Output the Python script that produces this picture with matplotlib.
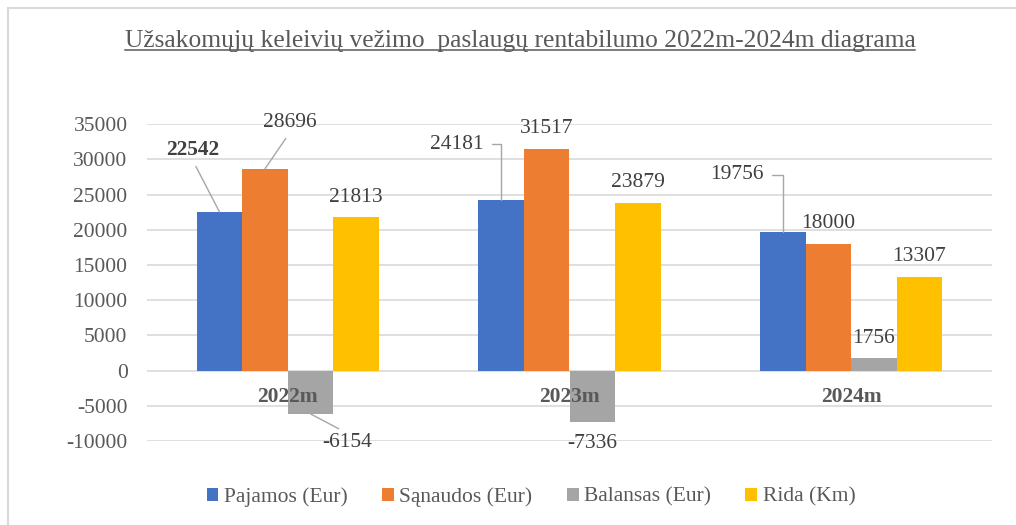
import matplotlib
matplotlib.use("Agg")
import matplotlib.pyplot as plt
from matplotlib.patches import Patch, Rectangle
from matplotlib.lines import Line2D
import numpy as np

# ---- data ----
categories = ['2022m', '2023m', '2024m']
series_names = ['Pajamos (Eur)', 'Sąnaudos (Eur)', 'Balansas (Eur)', 'Rida (Km)']
pajamos = [22542, 24181, 19756]
sanaudos = [28696, 31517, 18000]
balansas = [-6154, -7336, 1756]
rida = [21813, 23879, 13307]
y_ticks = [-10000, -5000, 0, 5000, 10000, 15000, 20000, 25000, 30000, 35000]
title = 'Užsakomųjų keleivių vežimo  paslaugų rentabilumo 2022m-2024m diagrama'

# ---- style ----
colors = ['#4472C4', '#ED7D31', '#A5A5A5', '#FFC000']
txt_grey = '#595959'
lbl_grey = '#404040'
leader_grey = '#A6A6A6'
grid_grey = '#D9D9D9'
FONT = 'Liberation Serif'
FS = 15.5

plt.rcParams['font.family'] = [FONT, 'DejaVu Serif']

W, H, DPI = 1016, 525, 100
fig = plt.figure(figsize=(W / DPI, H / DPI), dpi=DPI)
ax = fig.add_axes([147 / W, 1 - 441 / H, (992 - 147) / W, (441 - 124.3) / H])

series = [pajamos, sanaudos, balansas, rida]
x = np.arange(len(categories))
bw = 0.1617
for k, vals in enumerate(series):
    ax.bar(x + (k - 1.5) * bw, vals, width=bw, color=colors[k], zorder=2,
           label=series_names[k])

ax.set_xlim(-0.5, len(categories) - 0.5)
ax.set_ylim(y_ticks[0], y_ticks[-1])
ax.set_yticks(y_ticks)
ax.set_yticklabels([str(t) for t in y_ticks])
ax.set_xticks([])
ax.tick_params(axis='y', length=0, pad=14, labelsize=FS, labelcolor=txt_grey)
for s in ax.spines.values():
    s.set_visible(False)
ax.grid(axis='y', color=grid_grey, lw=1.2, zorder=0)
ax.set_axisbelow(True)

# category labels near zero line
for i, c in enumerate(categories):
    ax.annotate(c, xy=(i, 0), xytext=(0, -26), textcoords='offset pixels',
                ha='center', va='center', fontsize=FS, fontweight='bold',
                color=txt_grey, zorder=6)

# data label placement: (series, category) -> (dx, dy, kind)
special = {
    (0, 0): (-27, 62, 'line_bottom'),
    (1, 0): (25, 46, 'line_bottom'),
    (0, 1): (-44, 56, 'elbow'),
    (0, 2): (-46, 57, 'elbow'),
    (2, 0): (37, -29, 'line_top'),
}
bold_labels = {(0, 0)}

for k, vals in enumerate(series):
    for i, v in enumerate(vals):
        xp = i + (k - 1.5) * bw
        dx, dy, kind = special.get((k, i), (0, 20 if v >= 0 else -21, None))
        kw = dict(xy=(xp, v), xytext=(dx, dy), textcoords='offset pixels',
                  ha='center', va='center', fontsize=FS, color=lbl_grey,
                  fontweight='bold' if (k, i) in bold_labels else 'normal',
                  zorder=7)
        if kind == 'line_bottom':
            kw['arrowprops'] = dict(arrowstyle='-', color=leader_grey, lw=1,
                                    shrinkA=3, shrinkB=0, relpos=(0.5, 0))
        elif kind == 'line_top':
            kw['arrowprops'] = dict(arrowstyle='-', color=leader_grey, lw=1,
                                    shrinkA=3, shrinkB=0, relpos=(0.5, 1))
        elif kind == 'elbow':
            kw['arrowprops'] = dict(arrowstyle='-', color=leader_grey, lw=1,
                                    shrinkA=4, shrinkB=0, relpos=(1, 0.5),
                                    connectionstyle='angle,angleA=0,angleB=90,rad=0')
        ax.annotate(str(v), **kw)

# legend
handles = [Patch(facecolor=colors[k], edgecolor='none') for k in range(4)]
leg = fig.legend(handles, series_names, loc='center', bbox_to_anchor=(0.5226, 1 - 497 / H),
                 ncol=4, frameon=False, fontsize=FS, handlelength=0.55, handleheight=0.55,
                 handletextpad=0.25, columnspacing=1.6, labelcolor=txt_grey)

# title with underline
t = fig.text(520 / W, 1 - 41 / H, title, ha='center', va='center', fontsize=18.4,
             color=txt_grey)
fig.canvas.draw()
bb = t.get_window_extent(renderer=fig.canvas.get_renderer())
uy = (bb.y0 + 2) / H
fig.add_artist(Line2D([bb.x0 / W, bb.x1 / W], [uy, uy], transform=fig.transFigure,
                      color=txt_grey, lw=1.1))

# chart border
fig.add_artist(Rectangle((8 / W, -0.2), 1.5, 1 - 8 / H + 0.2, transform=fig.transFigure,
                         fill=False, edgecolor=grid_grey, lw=1.5))

fig.savefig('out.png', dpi=DPI)
